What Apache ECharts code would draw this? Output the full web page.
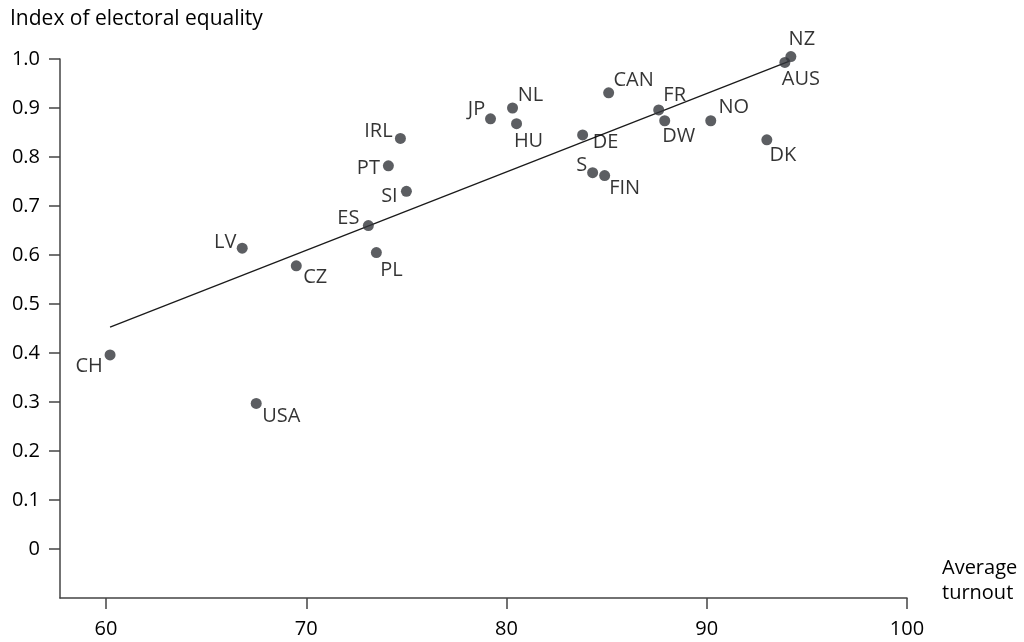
<!DOCTYPE html>
<html>
<head>
<meta charset="utf-8">
<script src="https://cdn.jsdelivr.net/npm/echarts@6/dist/echarts.min.js"></script>
<style>html,body{margin:0;padding:0;background:#fff}#c{width:1024px;height:642px}</style>
</head>
<body>
<div id="c"></div>
<script>
// ---- data ----
var countries = ['NZ','AUS','CAN','FR','DW','NO','DK','FIN','DE','S','NL','JP','HU','IRL','PT','SI','ES','LV','CZ','PL','CH','USA'];
var turnout   = [94.2, 93.9, 85.1, 87.6, 87.9, 90.2, 93.0, 84.9, 83.8, 84.3, 80.3, 79.2, 80.5, 74.7, 74.1, 75.0, 73.1, 66.8, 69.5, 73.5, 60.2, 67.5];
var equality  = [1.005, 0.993, 0.931, 0.896, 0.874, 0.874, 0.835, 0.762, 0.845, 0.768, 0.900, 0.878, 0.868, 0.838, 0.782, 0.730, 0.660, 0.614, 0.578, 0.605, 0.396, 0.297];
var trendX = [60.2, 94.1];
var trendY = [0.453, 0.995];
var xTicks = [60, 70, 80, 90, 100];
var yTicks = [0, 0.1, 0.2, 0.3, 0.4, 0.5, 0.6, 0.7, 0.8, 0.9, 1.0];

// ---- label placement (style only): offset of label centre from dot centre ----
var labelOffset = {
  NZ:[11,-17], AUS:[16,17], CAN:[25,-13], FR:[16,-15], DW:[14,16], NO:[23,-13],
  DK:[16,15], FIN:[20,13], DE:[23,7], S:[-11,-7], NL:[18,-13], JP:[-14,-9],
  HU:[12,18], IRL:[-22,-7], PT:[-20,2], SI:[-17,5], ES:[-20,-7], LV:[-17,-6],
  CZ:[19,12], PL:[15,18], CH:[-21,11], USA:[25,13]
};

var FONT = '"Open Sans", "Noto Sans", sans-serif';
var TXT = '#000000';
var AX = '#444444';

var pts = countries.map(function(c, i){
  return {
    name: c,
    value: [turnout[i], equality[i]],
    label: { offset: labelOffset[c] || [0,0] }
  };
});
var trend = trendX.map(function(x, i){ return [x, trendY[i]]; });

var chart = echarts.init(document.getElementById('c'), null, {renderer:'canvas'});
chart.setOption({
  animation: false,
  backgroundColor: '#fff',
  grid: { left: 60, right: 117, top: 59, bottom: 44, containLabel: false },
  xAxis: {
    type: 'value', min: 57.7, max: 100,
    axisLine: { show: true, onZero: false, lineStyle: { color: AX, width: 1.5 } },
    axisTick: { show: true, length: 11, lineStyle: { color: AX, width: 1.5 }, customValues: xTicks },
    axisLabel: { customValues: xTicks, margin: 21, fontSize: 20, fontFamily: FONT, color: TXT },
    splitLine: { show: false }
  },
  yAxis: {
    type: 'value', min: -0.1, max: 1.0,
    axisLine: { show: true, onZero: false, lineStyle: { color: AX, width: 1.5 } },
    axisTick: { show: true, length: 11, lineStyle: { color: AX, width: 1.5 }, customValues: yTicks },
    axisLabel: { customValues: yTicks, margin: 20, fontSize: 20, fontFamily: FONT, color: TXT,
      formatter: function(v){ return Math.abs(v) < 1e-9 ? '0' : v.toFixed(1); } },
    splitLine: { show: false }
  },
  graphic: [
    { type: 'text', left: 10, top: 9, style: { text: 'Index of electoral equality', font: '21px ' + FONT, fill: TXT } },
    { type: 'text', left: 942, top: 556, style: { text: 'Average\nturnout', font: '20px ' + FONT, lineHeight: 25, fill: TXT } }
  ],
  series: [
    {
      type: 'line', data: trend, symbol: 'none', silent: true, clip: false,
      lineStyle: { color: '#1a1a1a', width: 1.3 }, z: 1
    },
    {
      type: 'scatter', data: pts, symbol: 'circle', symbolSize: 11, clip: false,
      itemStyle: { color: '#33363b' }, z: 2,
      label: {
        show: true, position: 'inside', formatter: '{b}',
        fontSize: 20, fontFamily: FONT, color: TXT,
        align: 'center', verticalAlign: 'middle'
      }
    }
  ]
});
</script>
</body>
</html>
